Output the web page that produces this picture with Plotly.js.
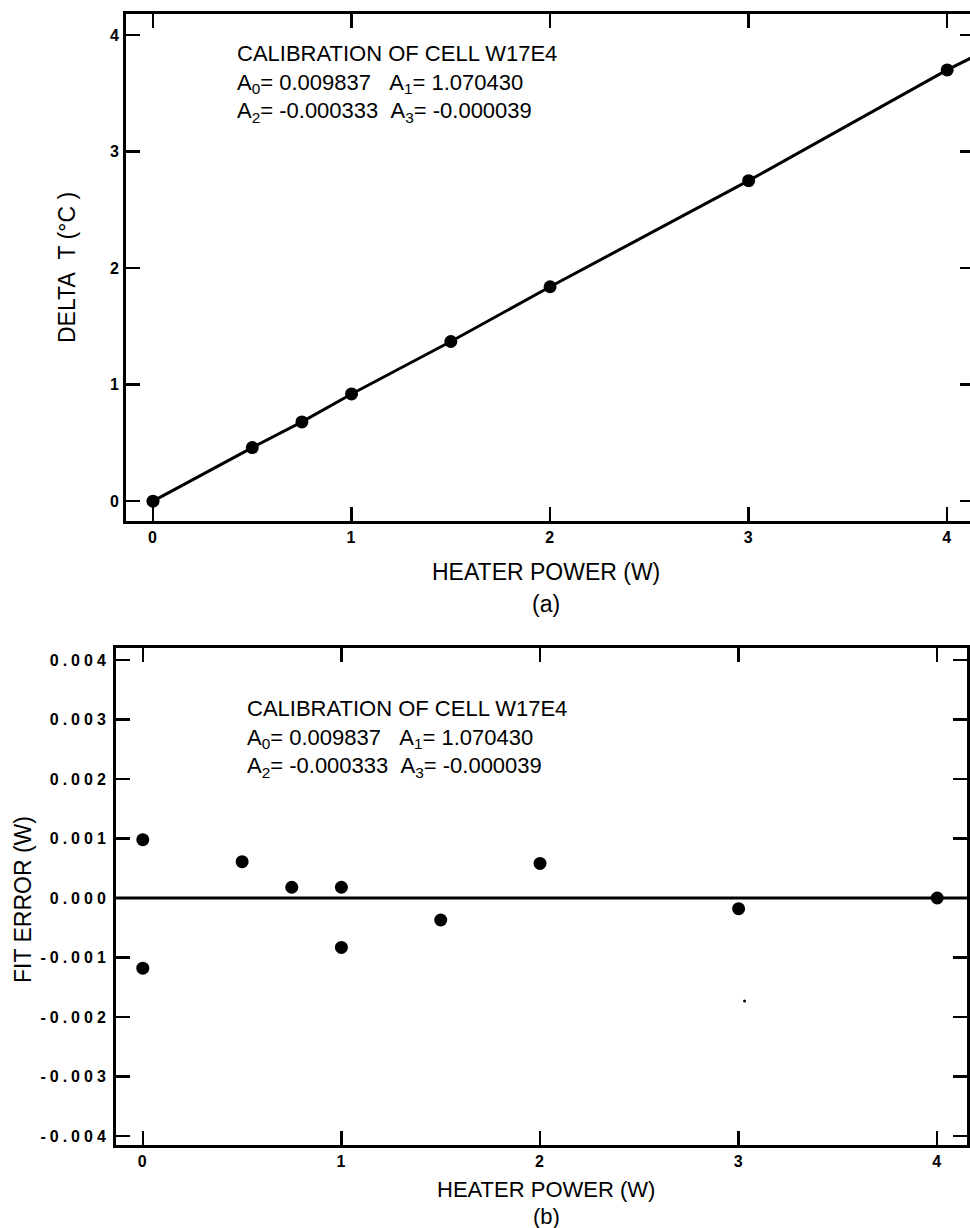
<!DOCTYPE html>
<html>
<head>
<meta charset="utf-8">
<script src="https://cdn.plot.ly/plotly-3.0.1.min.js"></script>
<style>
  html, body { margin: 0; padding: 0; background: #fff; overflow: hidden; }
  #chart { width: 980px; height: 1228px; }
  .y2tick text { letter-spacing: 4px; }
  .x2tick text, .xtick text, .ytick text { letter-spacing: 1px; }
</style>
</head>
<body>
<div id="chart"></div>
<script>
// ---- Data ----
const powerA = [0, 0.5, 0.75, 1.0, 1.5, 2.0, 3.0, 4.0];
const deltaT = [0.0, 0.46, 0.68, 0.92, 1.37, 1.84, 2.75, 3.70];
const fitLineX = [0, 0.5, 0.75, 1.0, 1.5, 2.0, 3.0, 4.0, 4.14];
const fitLineY = [0.0, 0.46, 0.68, 0.92, 1.37, 1.84, 2.75, 3.70, 3.82];

const powerB = [0, 0, 0.5, 0.75, 1.0, 1.0, 1.5, 2.0, 3.0, 4.0];
const fitError = [0.00098, -0.00118, 0.00061, 0.00018, 0.00018, -0.00083, -0.00037, 0.00058, -0.00018, 0.0];
const zeroLineX = [-0.14, 4.16];
const zeroLineY = [0, 0];
const speckX = [3.03];
const speckY = [-0.00173];

const xTicks = [0, 1, 2, 3, 4];
const yTicksA = [0, 1, 2, 3, 4];
const yTicksB = [-0.004, -0.003, -0.002, -0.001, 0, 0.001, 0.002, 0.003, 0.004];
const yTickTextB = ['-0.004', '-0.003', '-0.002', '-0.001', '0.000', '0.001', '0.002', '0.003', '0.004'];

const calibText = 'CALIBRATION OF CELL W17E4<br>' +
  'A<sub>0</sub>= 0.009837\u00a0\u00a0\u00a0A<sub>1</sub>= 1.070430<br>' +
  'A<sub>2</sub>= -0.000333\u00a0\u00a0A<sub>3</sub>= -0.000039';

// ---- Layout helpers ----
const W = 980, H = 1228;
const px = x => x / W;
const py = y => 1 - y / H;
const FONT = 'Liberation Sans, Arial, sans-serif';

const axisCommon = {
  showline: true, linecolor: '#000', linewidth: 3, mirror: 'ticks',
  ticks: 'inside', ticklen: 14, tickwidth: 2.5, tickcolor: '#000',
  showgrid: false, zeroline: false,
  tickfont: { family: FONT, size: 16, color: '#000', weight: 'bold' }
};

const traces = [
  { x: fitLineX, y: fitLineY, xaxis: 'x', yaxis: 'y', mode: 'lines',
    line: { color: '#000', width: 3 }, hoverinfo: 'skip' },
  { x: powerA, y: deltaT, xaxis: 'x', yaxis: 'y', mode: 'markers',
    marker: { color: '#000', size: 13 } },
  { x: zeroLineX, y: zeroLineY, xaxis: 'x2', yaxis: 'y2', mode: 'lines',
    line: { color: '#000', width: 3 }, hoverinfo: 'skip' },
  { x: powerB, y: fitError, xaxis: 'x2', yaxis: 'y2', mode: 'markers',
    marker: { color: '#000', size: 13 } },
  { x: speckX, y: speckY, xaxis: 'x2', yaxis: 'y2', mode: 'markers',
    marker: { color: '#000', size: 3 } }
];

function textAnn(x, y, text, opts) {
  return Object.assign({
    xref: 'paper', yref: 'paper', x: px(x), y: py(y),
    xanchor: 'center', yanchor: 'middle', text: text, showarrow: false,
    font: { family: FONT, size: 23, color: '#000' }
  }, opts || {});
}

const annotations = [
  textAnn(235, 83, calibText, { xanchor: 'left', align: 'left', font: { family: FONT, size: 22, color: '#000' } }),
  textAnn(245, 738, calibText, { xanchor: 'left', align: 'left', font: { family: FONT, size: 22, color: '#000' } }),
  textAnn(546, 572, 'HEATER POWER (W)'),
  textAnn(546, 604, '(a)'),
  textAnn(67, 268, 'DELTA\u00a0\u00a0T (°C )', { textangle: -90 }),
  textAnn(546, 1189, 'HEATER POWER (W)', { font: { family: FONT, size: 22, color: '#000' } }),
  textAnn(546, 1216, '(b)', { font: { family: FONT, size: 22, color: '#000' } }),
  textAnn(23, 900, 'FIT ERROR (W)', { textangle: -90 })
];

const layout = {
  width: W, height: H,
  margin: { l: 0, r: 0, t: 0, b: 0 },
  paper_bgcolor: '#fff', plot_bgcolor: '#fff',
  showlegend: false,
  font: { family: FONT, color: '#000' },
  xaxis: Object.assign({}, axisCommon, {
    domain: [px(126), px(974)], range: [-0.136, 4.135],
    tickvals: xTicks, anchor: 'y'
  }),
  yaxis: Object.assign({}, axisCommon, {
    domain: [py(521), py(14)], range: [-0.17, 4.18],
    tickvals: yTicksA, anchor: 'x'
  }),
  xaxis2: Object.assign({}, axisCommon, {
    domain: [px(116), px(967)], range: [-0.135, 4.15],
    tickvals: xTicks, anchor: 'y2'
  }),
  yaxis2: Object.assign({}, axisCommon, {
    domain: [py(1145), py(648)], range: [-0.00415, 0.0042],
    tickvals: yTicksB, ticktext: yTickTextB, anchor: 'x2'
  }),
  annotations: annotations
};

Plotly.newPlot('chart', traces, layout, { displayModeBar: false, staticPlot: true });
</script>
</body>
</html>
